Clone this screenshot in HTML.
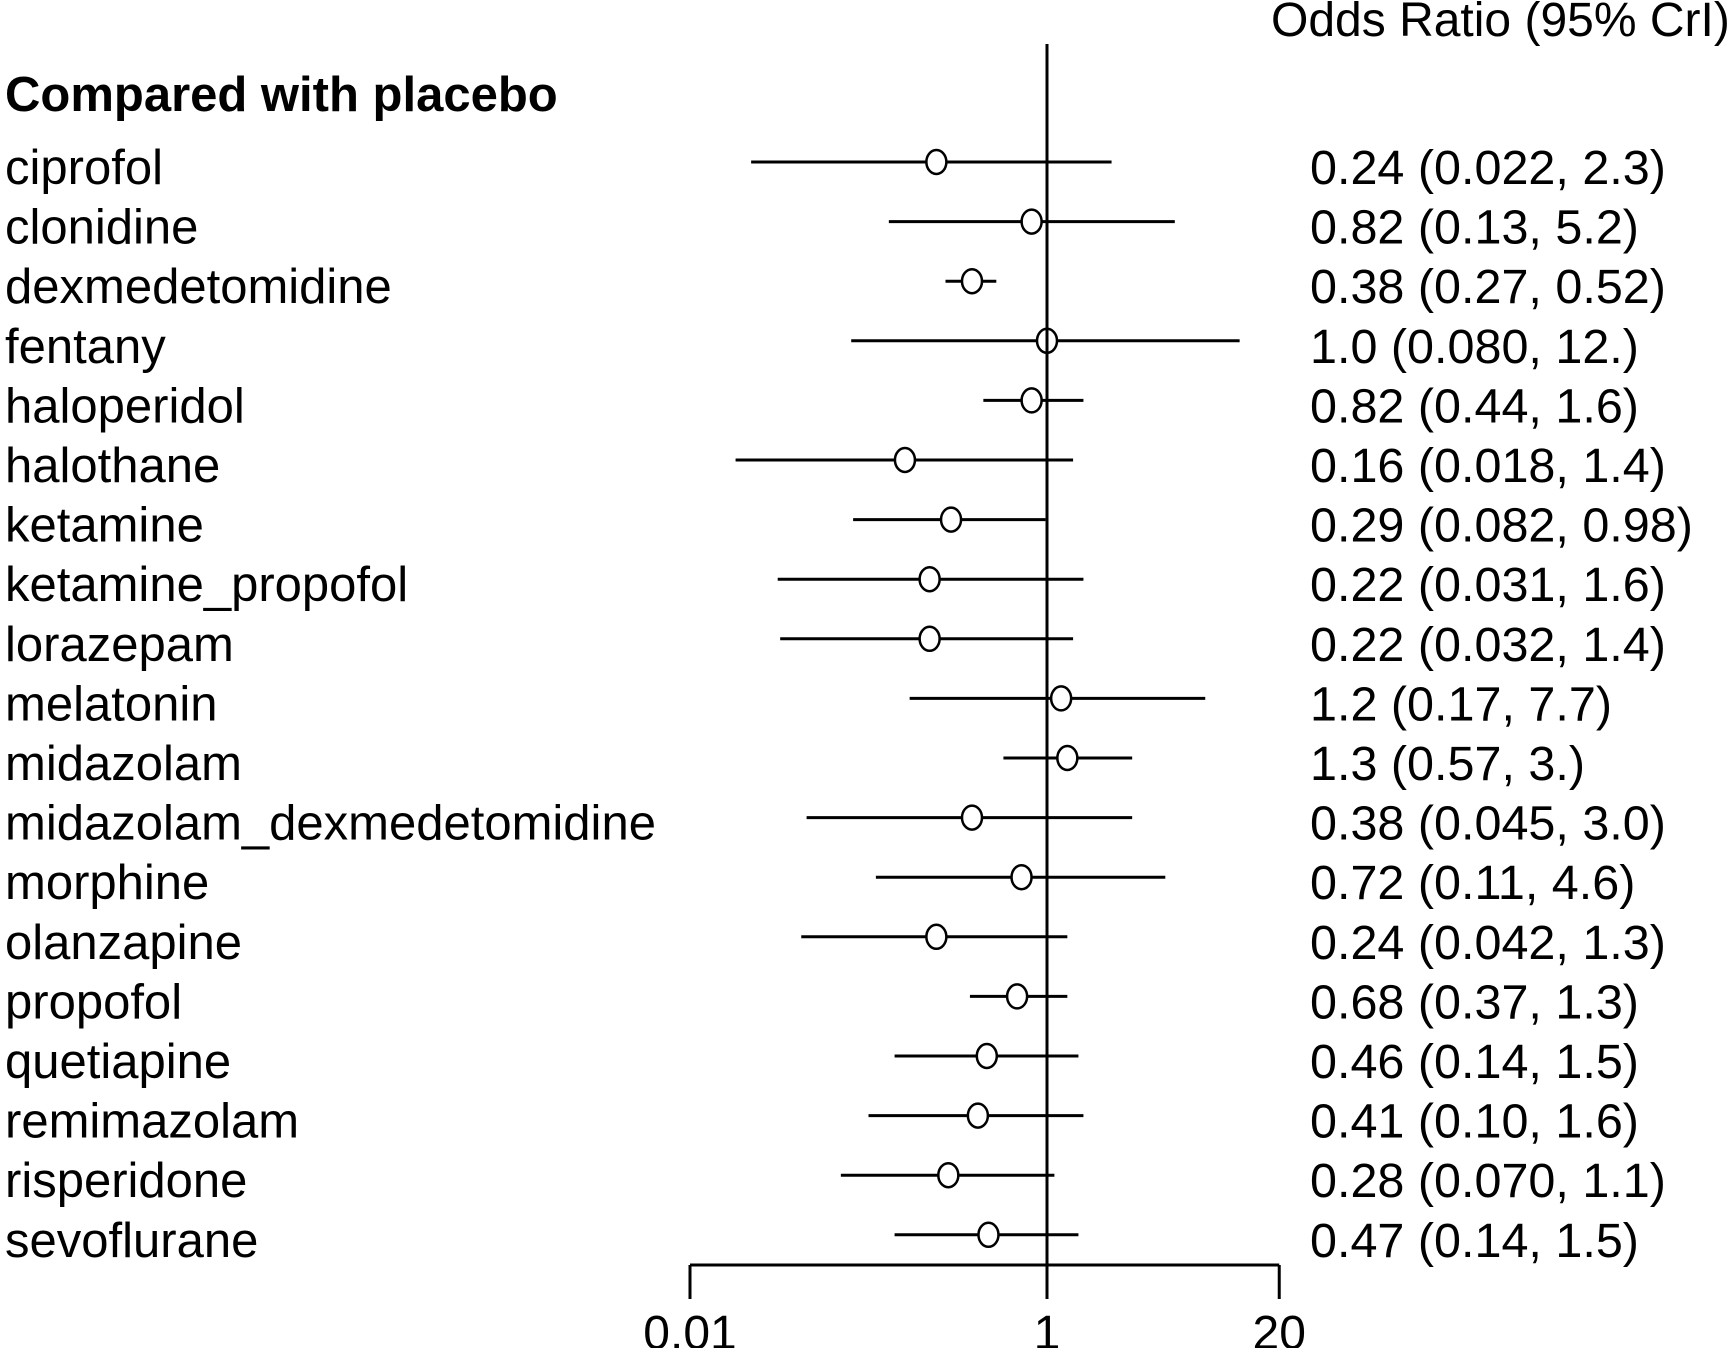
<!DOCTYPE html>
<html><head><meta charset="utf-8"><style>
html,body{margin:0;padding:0;background:#fff}
svg{display:block}
text{font-family:"Liberation Sans",sans-serif;fill:#000}
</style></head><body>
<svg id="chart" width="1733" height="1348" viewBox="0 0 1733 1348" xmlns="http://www.w3.org/2000/svg">
<text x="1271" y="36" font-size="48">Odds Ratio (95% CrI)</text>
<text x="5" y="111" font-size="49" font-weight="bold">Compared with placebo</text>
<g id="rows"></g>
<g id="axis"></g>
</svg>
<script>
const categories=["ciprofol","clonidine","dexmedetomidine","fentany","haloperidol","halothane","ketamine","ketamine_propofol","lorazepam","melatonin","midazolam","midazolam_dexmedetomidine","morphine","olanzapine","propofol","quetiapine","remimazolam","risperidone","sevoflurane"];
const oddsRatio=[0.24,0.82,0.38,1.0,0.82,0.16,0.29,0.22,0.22,1.2,1.3,0.38,0.72,0.24,0.68,0.46,0.41,0.28,0.47];
const lower=[0.022,0.13,0.27,0.080,0.44,0.018,0.082,0.031,0.032,0.17,0.57,0.045,0.11,0.042,0.37,0.14,0.10,0.070,0.14];
const upper=[2.3,5.2,0.52,12,1.6,1.4,0.98,1.6,1.4,7.7,3,3.0,4.6,1.3,1.3,1.5,1.6,1.1,1.5];
const valueLabels=["0.24 (0.022, 2.3)","0.82 (0.13, 5.2)","0.38 (0.27, 0.52)","1.0 (0.080, 12.)","0.82 (0.44, 1.6)","0.16 (0.018, 1.4)","0.29 (0.082, 0.98)","0.22 (0.031, 1.6)","0.22 (0.032, 1.4)","1.2 (0.17, 7.7)","1.3 (0.57,  3.)","0.38 (0.045, 3.0)","0.72 (0.11, 4.6)","0.24 (0.042, 1.3)","0.68 (0.37, 1.3)","0.46 (0.14, 1.5)","0.41 (0.10, 1.6)","0.28 (0.070, 1.1)","0.47 (0.14, 1.5)"];
const tickValues=[0.01,1,20];
const tickLabels=["0.01","1","20"];

const NS="http://www.w3.org/2000/svg";
const x=v=>1047+Math.log10(v)*178.5;
const y=i=>162+i*59.6;
function mk(tag,attrs,parent){const e=document.createElementNS(NS,tag);for(const k in attrs)e.setAttribute(k,attrs[k]);parent.appendChild(e);return e;}
const rows=document.getElementById('rows'),axis=document.getElementById('axis');
const ref=mk('line',{x1:x(1),x2:x(1),y1:44,y2:1265,stroke:'#000','stroke-width':3},axis);


const base=mk('line',{x1:x(tickValues[0]),x2:x(tickValues[tickValues.length-1]),y1:1265,y2:1265,stroke:'#000','stroke-width':3},axis);


tickValues.forEach((t,i)=>{
  const tk=mk('line',{x1:x(t),x2:x(t),y1:1265,y2:1299,stroke:'#000','stroke-width':3},axis);
  
  
  const tl=mk('text',{x:x(t),y:1349,'font-size':48,'text-anchor':'middle'},axis);
  tl.textContent=tickLabels[i];
  
  
});
categories.forEach((c,i)=>{
  const yy=y(i);
  const lab=mk('text',{x:5,y:yy+22,'font-size':49},rows);
  lab.textContent=c;
  
  
  const ci=mk('line',{x1:x(lower[i]),x2:x(upper[i]),y1:yy,y2:yy,stroke:'#000','stroke-width':3},rows);
  
  
  const pt=mk('ellipse',{cx:x(oddsRatio[i]),cy:yy,rx:10,ry:12,fill:'#fff',stroke:'#000','stroke-width':2.5},rows);
  
  
  const val=mk('text',{x:1310,y:yy+22,'font-size':48.5},rows);
  val.textContent=valueLabels[i];
  
  
});
</script>
</body></html>
